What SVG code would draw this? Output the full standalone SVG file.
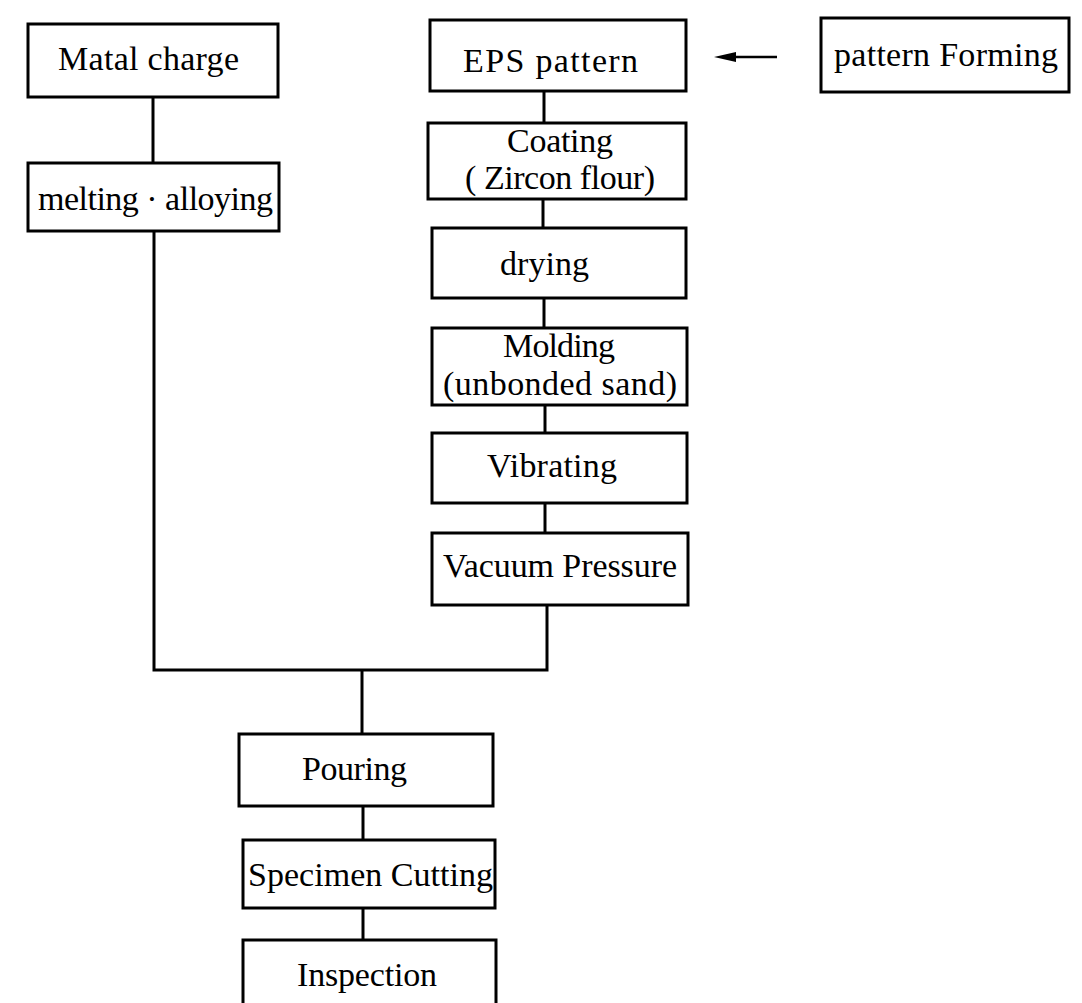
<svg xmlns="http://www.w3.org/2000/svg" width="1082" height="1003" viewBox="0 0 1082 1003">
<style>
.box{fill:#fff;stroke:#000;stroke-width:3}
.t{font-family:"Liberation Serif","Times New Roman",serif;font-size:34px;fill:#000;text-anchor:start}
.c{fill:none;stroke:#000;stroke-width:3}
</style>
<rect width="1082" height="1003" fill="#fff"/>
<g id="connectors">
<line class="c" x1="153" y1="97" x2="153" y2="163"/>
<polyline class="c" points="154,231 154,670 547,670 547,605"/>
<line class="c" x1="362" y1="670" x2="362" y2="734"/>
<line class="c" x1="363" y1="806" x2="363" y2="840"/>
<line class="c" x1="363" y1="908" x2="363" y2="940"/>
<line class="c" x1="544" y1="91" x2="544" y2="123"/>
<line class="c" x1="543" y1="199" x2="543" y2="228"/>
<line class="c" x1="544" y1="298" x2="544" y2="328"/>
<line class="c" x1="545" y1="405" x2="545" y2="433"/>
<line class="c" x1="545" y1="503" x2="545" y2="533"/>
<path d="M777,57 L733,57" stroke="#000" stroke-width="2.5" fill="none"/>
<path d="M714,57 L736,52 L736,62 Z" fill="#000"/>
</g>
<g id="n-matal">
<rect class="box" x="28" y="24" width="250" height="73"/>
<text class="t" x="58" y="70" textLength="181" lengthAdjust="spacing">Matal charge</text>
</g>
<g id="n-melting">
<rect class="box" x="28" y="163" width="251" height="68"/>
<text class="t" x="38" y="210" textLength="235" lengthAdjust="spacing">melting · alloying</text>
</g>
<g id="n-eps">
<rect class="box" x="430" y="20" width="256" height="71"/>
<text class="t" x="463" y="72" textLength="175" lengthAdjust="spacing">EPS pattern</text>
</g>
<g id="n-forming">
<rect class="box" x="821" y="18" width="248" height="74"/>
<text class="t" x="834" y="66" textLength="224" lengthAdjust="spacing">pattern Forming</text>
</g>
<g id="n-coating">
<rect class="box" x="428" y="123" width="258" height="76"/>
<text class="t" x="507" y="152" textLength="106" lengthAdjust="spacing">Coating</text>
<text class="t" x="465" y="189" textLength="190" lengthAdjust="spacing">( Zircon flour)</text>
</g>
<g id="n-drying">
<rect class="box" x="432" y="228" width="254" height="70"/>
<text class="t" x="500" y="275" textLength="89" lengthAdjust="spacing">drying</text>
</g>
<g id="n-molding">
<rect class="box" x="432" y="328" width="255" height="77"/>
<text class="t" x="503" y="357" textLength="112" lengthAdjust="spacing">Molding</text>
<text class="t" x="443" y="395" textLength="234" lengthAdjust="spacing">(unbonded sand)</text>
</g>
<g id="n-vibrating">
<rect class="box" x="432" y="433" width="255" height="70"/>
<text class="t" x="487" y="477" textLength="130" lengthAdjust="spacing">Vibrating</text>
</g>
<g id="n-vacuum">
<rect class="box" x="432" y="533" width="256" height="72"/>
<text class="t" x="443" y="577" textLength="234" lengthAdjust="spacing">Vacuum Pressure</text>
</g>
<g id="n-pouring">
<rect class="box" x="239" y="734" width="254" height="72"/>
<text class="t" x="302" y="780" textLength="105" lengthAdjust="spacing">Pouring</text>
</g>
<g id="n-specimen">
<rect class="box" x="243" y="840" width="252" height="68"/>
<text class="t" x="248" y="886" textLength="245" lengthAdjust="spacing">Specimen Cutting</text>
</g>
<g id="n-inspection">
<rect class="box" x="243" y="940" width="253" height="80"/>
<text class="t" x="297" y="986" textLength="140" lengthAdjust="spacing">Inspection</text>
</g>
</svg>
